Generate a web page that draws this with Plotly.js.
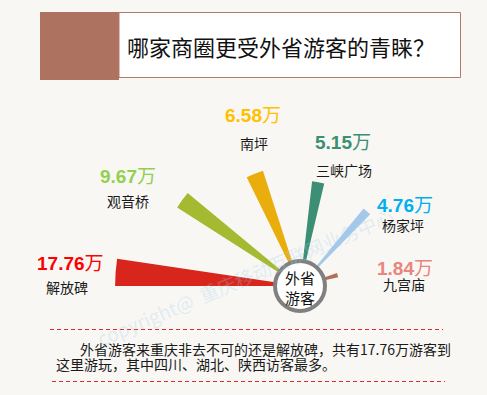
<!DOCTYPE html>
<html><head><meta charset="utf-8">
<script src="https://cdn.plot.ly/plotly-3.0.1.min.js"></script>
<style>html,body{margin:0;padding:0;background:#f8f7f3;}#chart{width:487px;height:395px;}</style>
</head><body><div id="chart"></div>
<script>
// ---- data ----
const districts = ['解放碑', '观音桥', '南坪', '三峡广场', '杨家坪', '九宫庙'];
const visitors = [17.76, 9.67, 6.58, 5.15, 4.76, 1.84]; // 万人
const unit = '万';
const titleText = '哪家商圈更受外省游客的青睐？';
const centerText = '外省<br>游客';
const noteLine1 = '外省游客来重庆非去不可的还是解放碑，共有17.76万游客到';
const noteLine2 = '这里游玩，其中四川、湖北、陕西访客最多。';
const watermark = 'copyright@  重庆移动互联网业务中心';

// ---- styles ----
const wedgeColors = ['#d9261c', '#a4bb31', '#e9ad0c', '#3c8f74', '#a4c8ea', '#b1705c'];
const wedgeWidths = [0.27, 0.22, 0.26, 0.21, 0.16, 0.2];
const valueColors = ['#ff0000', '#92d050', '#ffc000', '#3b8f72', '#00b0f0', '#e8857c'];
// label positions in pixels: [valueX, valueY, nameX, nameY]
const labelPos = [[70, 263, 67, 287], [128, 177, 128, 201], [253, 115, 254, 143],
                  [343, 143, 344, 170], [405, 205, 403, 225], [405, 268, 404, 284]];

const W = 487, H = 395;
const px = x => x / W;
const py = y => 1 - y / H;
const cjk = '"Noto Sans CJK SC", "Noto Sans", sans-serif';
const num = '"Liberation Sans", Arial, "Noto Sans CJK SC", sans-serif';

const trace = {
  type: 'barpolar',
  r: visitors,
  theta: districts,
  width: wedgeWidths,
  marker: {color: wedgeColors, line: {width: 0}},
  hoverinfo: 'skip'
};

const annotations = [];
annotations.push({xref: 'paper', yref: 'paper', x: px(245), y: py(276), xanchor: 'center', yanchor: 'middle',
  text: watermark, showarrow: false, textangle: -23, font: {family: cjk, size: 19, color: 'rgba(160,205,240,0.28)'}});
districts.forEach((d, i) => {
  const p = labelPos[i];
  annotations.push({xref: 'paper', yref: 'paper', x: px(p[0]), y: py(p[1]), xanchor: 'center', yanchor: 'middle',
    text: '<b>' + visitors[i].toFixed(2) + '</b>' + unit, showarrow: false,
    font: {family: num, size: 19, color: valueColors[i]}});
  annotations.push({xref: 'paper', yref: 'paper', x: px(p[2]), y: py(p[3]), xanchor: 'center', yanchor: 'middle',
    text: d, showarrow: false, font: {family: cjk, size: 14, color: '#1a1a1a'}});
});
annotations.push({xref: 'paper', yref: 'paper', x: px(281), y: py(46), xanchor: 'center', yanchor: 'middle',
  text: titleText, showarrow: false, font: {family: cjk, size: 22, color: '#111111'}});
annotations.push({xref: 'paper', yref: 'paper', x: px(300), y: py(287), xanchor: 'center', yanchor: 'middle',
  text: centerText, showarrow: false, font: {family: cjk, size: 15, color: '#111111'}});
annotations.push({xref: 'paper', yref: 'paper', x: px(78), y: py(349), xanchor: 'left', yanchor: 'middle',
  text: noteLine1, showarrow: false, font: {family: cjk, size: 14, color: '#1a1a1a'}});
annotations.push({xref: 'paper', yref: 'paper', x: px(54), y: py(364), xanchor: 'left', yanchor: 'middle',
  text: noteLine2, showarrow: false, font: {family: cjk, size: 14, color: '#1a1a1a'}});

const shapes = [
  {type: 'rect', xref: 'paper', yref: 'paper', x0: px(40), x1: px(119), y0: py(80), y1: py(12),
   fillcolor: '#ae7260', line: {width: 0}},
  {type: 'rect', xref: 'paper', yref: 'paper', x0: px(119), x1: px(460.5), y0: py(77.5), y1: py(12.5),
   fillcolor: '#ffffff', line: {color: '#b57a66', width: 1}},
  {type: 'line', xref: 'paper', yref: 'paper', x0: px(50), x1: px(443), y0: py(329.5), y1: py(329.5),
   line: {color: '#e02a2a', width: 1.2, dash: '4px,3px'}},
  {type: 'line', xref: 'paper', yref: 'paper', x0: px(52), x1: px(445), y0: py(381.5), y1: py(381.5),
   line: {color: '#e02a2a', width: 1.2, dash: '4px,3px'}},
  {type: 'circle', xref: 'paper', yref: 'paper', layer: 'above', x0: px(275), x1: px(325), y0: py(311), y1: py(261),
   fillcolor: '#ffffff', line: {color: '#808080', width: 4}}
];

const layout = {
  width: W, height: H,
  margin: {l: 0, r: 0, t: 0, b: 0},
  paper_bgcolor: '#f8f7f3',
  plot_bgcolor: 'rgba(0,0,0,0)',
  showlegend: false,
  polar: {
    domain: {x: [113 / W, 1], y: [py(286), py(99)]},
    sector: [0, 180],
    hole: 15 / 187,
    bgcolor: 'rgba(0,0,0,0)',
    radialaxis: {type: 'log', range: [0.1014, 1.2635], visible: false, showgrid: false, showline: false, showticklabels: false, ticks: ''},
    angularaxis: {type: 'category', direction: 'clockwise', rotation: 175.8, period: 11.28, visible: false,
      showgrid: false, showline: false, showticklabels: false, ticks: ''}
  },
  shapes: shapes,
  annotations: annotations
};

Plotly.newPlot('chart', [trace], layout, {displayModeBar: false, staticPlot: true});
</script>
</body></html>
